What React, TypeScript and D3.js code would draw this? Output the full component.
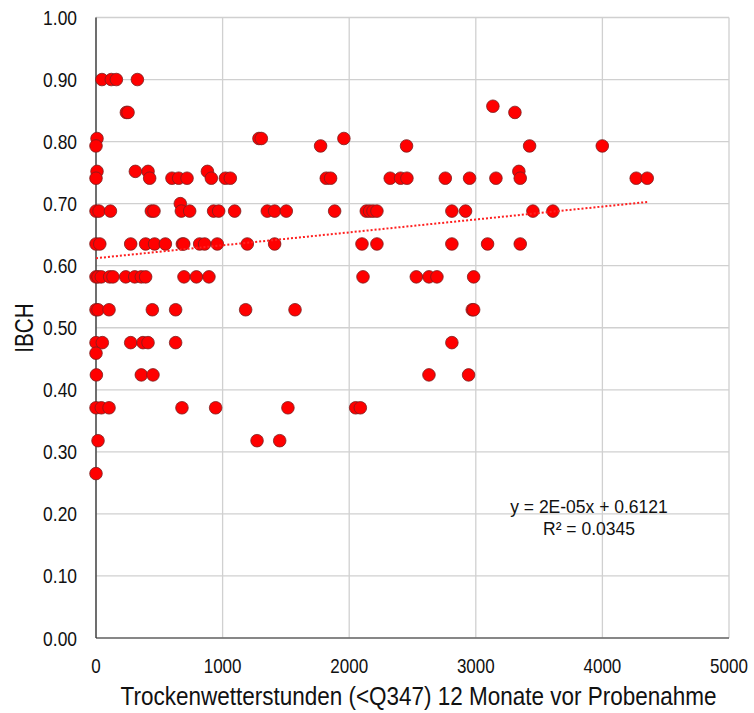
import React, { useEffect, useRef } from "react";
import * as d3 from "d3";

// Trockenwetterstunden (x) and IBCH (y), one entry per sample
const hours = [
  47, 121, 161, 327,
  240, 253,
  8, 1287, 1306, 1958,
  0, 1774, 2453, 3425, 3999,
  3135, 3309,
  8, 311, 411, 880, 3340,
  0, 424, 600, 653, 719, 911, 1022, 1061, 1819, 1853, 2324, 2406, 2456, 2759, 2951, 3159, 3351, 4267, 4354,
  666,
  0, 24, 114, 437, 458, 674, 740, 929, 969, 1095, 1353, 1411, 1503, 1885, 2135, 2161, 2188, 2219, 2811, 2919, 3451, 3609,
  0, 30, 274, 392, 463, 548, 682, 693, 819, 858, 958, 1195, 1411, 2101, 2219, 2811, 3093, 3351,
  0, 16, 42, 108, 134, 235, 306, 358, 392, 695, 793, 892, 2109, 2530, 2630, 2693, 2983,
  0, 16, 103, 445, 629, 1182, 1572, 2972, 2983,
  0, 50, 274, 371, 411, 629, 2811,
  0,
  3, 358, 450, 2630, 2943,
  0, 42, 103, 679, 945, 1516, 2051, 2088,
  16, 1272, 1451,
  0,
];

const ibch = [
  0.9, 0.9, 0.9, 0.9,
  0.847, 0.847,
  0.805, 0.805, 0.805, 0.805,
  0.793, 0.793, 0.793, 0.793, 0.793,
  0.857, 0.847,
  0.752, 0.752, 0.752, 0.752, 0.752,
  0.741, 0.741, 0.741, 0.741, 0.741, 0.741, 0.741, 0.741, 0.741, 0.741, 0.741, 0.741, 0.741, 0.741, 0.741, 0.741, 0.741, 0.741, 0.741,
  0.7,
  0.688, 0.688, 0.688, 0.688, 0.688, 0.688, 0.688, 0.688, 0.688, 0.688, 0.688, 0.688, 0.688, 0.688, 0.688, 0.688, 0.688, 0.688, 0.688, 0.688, 0.688, 0.688,
  0.635, 0.635, 0.635, 0.635, 0.635, 0.635, 0.635, 0.635, 0.635, 0.635, 0.635, 0.635, 0.635, 0.635, 0.635, 0.635, 0.635, 0.635,
  0.582, 0.582, 0.582, 0.582, 0.582, 0.582, 0.582, 0.582, 0.582, 0.582, 0.582, 0.582, 0.582, 0.582, 0.582, 0.582, 0.582,
  0.529, 0.529, 0.529, 0.529, 0.529, 0.529, 0.529, 0.529, 0.529,
  0.476, 0.476, 0.476, 0.476, 0.476, 0.476, 0.476,
  0.459,
  0.424, 0.424, 0.424, 0.424, 0.424,
  0.371, 0.371, 0.371, 0.371, 0.371, 0.371, 0.371, 0.371,
  0.318, 0.318, 0.318,
  0.265,
];

const xTicks = [0, 1000, 2000, 3000, 4000, 5000];
const yTicks = [0, 0.1, 0.2, 0.3, 0.4, 0.5, 0.6, 0.7, 0.8, 0.9, 1.0];

const slope = 2.08e-5;
const intercept = 0.6121;
const equation = "y = 2E-05x + 0.6121";
const rSquared = "R² = 0.0345";

export default function App() {
  const ref = useRef<SVGSVGElement>(null);

  useEffect(() => {
    const svg = d3.select(ref.current);
    svg.selectAll("*").remove();

    const width = 754;
    const height = 713;
    const margin = { left: 96, right: 25, top: 17.5, bottom: 75 };
    const font = "'Liberation Sans', Arial, sans-serif";

    const x = d3.scaleLinear().domain([0, 5000]).range([margin.left, width - margin.right]);
    const y = d3.scaleLinear().domain([0, 1]).range([height - margin.bottom, margin.top]);

    // condensed text: the original labels are narrower than plain Arial
    let label = (
      px: number,
      py: number,
      str: string,
      size: number,
      anchor: string,
      sx: number,
      rotate = 0
    ) => {
      svg
        .append("g")
        .attr("transform", `translate(${px}, ${py}) rotate(${rotate}) scale(${sx}, 1)`)
        .append("text")
        .attr("text-anchor", anchor)
        .attr("font-family", font)
        .attr("font-size", size)
        .attr("fill", "#111")
        .text(str);
    };

    // grid
    svg
      .append("g")
      .selectAll("line")
      .data(yTicks)
      .enter()
      .append("line")
      .attr("x1", x(0))
      .attr("x2", x(5000))
      .attr("y1", (d) => y(d))
      .attr("y2", (d) => y(d))
      .attr("stroke", "#d0d0d0")
      .attr("stroke-width", 1.3);

    svg
      .append("g")
      .selectAll("line")
      .data(xTicks)
      .enter()
      .append("line")
      .attr("x1", (d) => x(d))
      .attr("x2", (d) => x(d))
      .attr("y1", y(0))
      .attr("y2", y(1))
      .attr("stroke", "#d0d0d0")
      .attr("stroke-width", 1.3);

    // axis lines
    svg
      .append("line")
      .attr("x1", x(0))
      .attr("x2", x(0))
      .attr("y1", y(0))
      .attr("y2", y(1))
      .attr("stroke", "#222")
      .attr("stroke-width", 1.2);
    svg
      .append("line")
      .attr("x1", x(0))
      .attr("x2", x(5000))
      .attr("y1", y(0))
      .attr("y2", y(0))
      .attr("stroke", "#333")
      .attr("stroke-width", 1.2);

    // tick labels
    yTicks.forEach((d) => label(x(0) - 19, y(d) + 7.5, d3.format(".2f")(d), 21, "end", 0.83));
    xTicks.forEach((d) => label(x(d), 673, String(d), 20, "middle", 0.85));

    // axis titles
    label(418.5, 705, "Trockenwetterstunden (<Q347) 12 Monate vor Probenahme", 25, "middle", 0.9);
    label(33, 328, "IBCH", 25, "middle", 0.83, -90);

    // points
    const points = hours.map((h, i) => ({ h, v: ibch[i] }));
    svg
      .append("g")
      .selectAll("circle")
      .data(points)
      .enter()
      .append("circle")
      .attr("cx", (d) => x(d.h))
      .attr("cy", (d) => y(d.v))
      .attr("r", 6.3)
      .attr("fill", "#ff0000")
      .attr("stroke", "#7a1f1f")
      .attr("stroke-width", 0.8);

    // trend line
    const xMax = d3.max(hours) as number;
    svg
      .append("line")
      .attr("x1", x(0))
      .attr("y1", y(intercept))
      .attr("x2", x(xMax))
      .attr("y2", y(intercept + slope * xMax))
      .attr("stroke", "#ff2020")
      .attr("stroke-width", 2)
      .attr("stroke-dasharray", "2,2");

    label(589, 513, equation, 17.5, "middle", 1);
    label(589, 535, rSquared, 17.5, "middle", 1);
  }, []);

  return (
    <svg
      ref={ref}
      width={754}
      height={713}
      style={{ display: "block", position: "absolute", left: 0, top: 0, background: "#fff" }}
    />
  );
}
